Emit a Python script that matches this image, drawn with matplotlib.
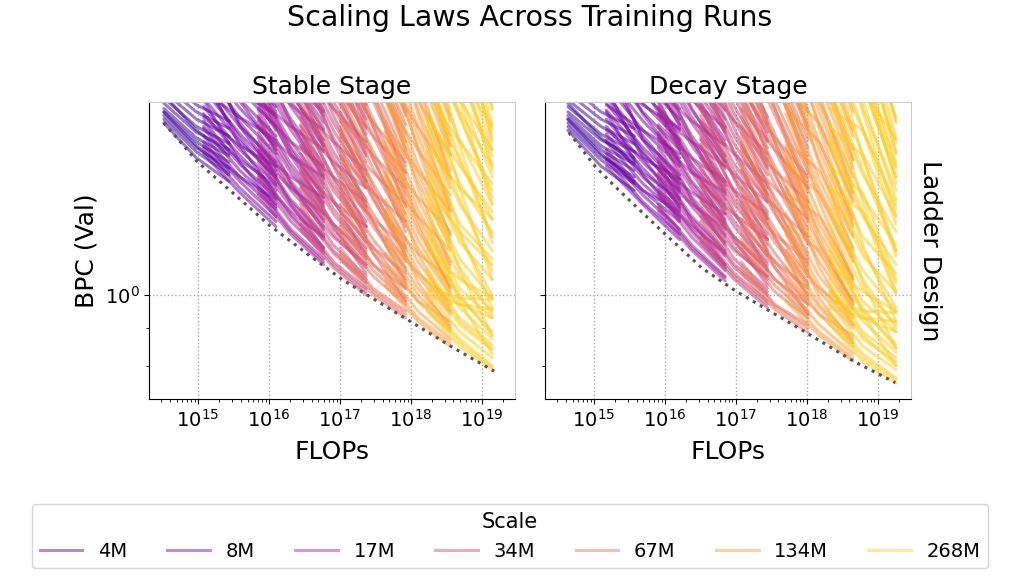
import numpy as np
import matplotlib
matplotlib.use("Agg")
import matplotlib.pyplot as plt
from matplotlib.lines import Line2D
from matplotlib.ticker import LogLocator, NullFormatter

scales = ['4M', '8M', '17M', '34M', '67M', '134M', '268M']

# FLOPs where each scale's runs begin / middle / end (one value per scale)
stable_flops_start = [3.3e14, 1.2e15, 7.1e15, 2.8e16, 1.02e17, 4.4e17, 1.7e18]
stable_flops_mid = [9.5e14, 3.9e15, 2.04e16, 8.1e16, 2.95e17, 1.26e18, 4.9e18]
stable_flops_end = [2.75e15, 1.26e16, 5.9e16, 2.35e17, 8.5e17, 3.6e18, 1.41e19]
decay_flops_start = [4.3e14, 1.5e15, 8.1e15, 3.2e16, 1.2e17, 5.1e17, 2.1e18]
decay_flops_mid = [1.26e15, 4.9e15, 2.4e16, 9.5e16, 3.55e17, 1.5e18, 6.2e18]
decay_flops_end = [3.7e15, 1.62e16, 7.1e16, 2.8e17, 1.05e18, 4.5e18, 1.82e19]

# BPC of each run at (start, mid, end), one list per scale
stable_runs = [
    # 4M
    [(1.72, 1.54, 1.43), (1.74, 1.57, 1.46), (1.76, 1.59, 1.49), (1.78, 1.62, 1.52),
     (1.80, 1.64, 1.55), (1.83, 1.67, 1.58), (1.86, 1.70, 1.61), (1.90, 1.74, 1.65),
     (1.94, 1.78, 1.69), (1.99, 1.82, 1.73), (1.78, 1.60, 1.47), (1.88, 1.68, 1.56)],
    # 8M
    [(1.56, 1.38, 1.24), (1.59, 1.40, 1.26), (1.62, 1.43, 1.28), (1.65, 1.45, 1.31),
     (1.69, 1.48, 1.33), (1.73, 1.51, 1.36), (1.77, 1.55, 1.39), (1.81, 1.58, 1.42),
     (1.86, 1.62, 1.45), (1.91, 1.66, 1.48), (1.96, 1.70, 1.52), (2.02, 1.75, 1.56),
     (2.08, 1.80, 1.60), (2.15, 1.85, 1.65), (2.22, 1.91, 1.70), (2.30, 1.97, 1.75),
     (2.38, 2.04, 1.81), (1.70, 1.53, 1.41), (1.95, 1.64, 1.44), (1.85, 1.52, 1.32),
     (2.00, 1.60, 1.37), (2.10, 1.72, 1.50), (2.25, 1.84, 1.58), (2.45, 2.00, 1.68),
     (2.60, 2.15, 1.78), (2.70, 2.25, 1.88), (1.75, 1.60, 1.50), (1.90, 1.75, 1.63),
     (2.05, 1.90, 1.76), (1.60, 1.45, 1.35), (2.20, 1.70, 1.46)],
    # 17M
    [(1.37, 1.21, 1.10), (1.40, 1.23, 1.12), (1.44, 1.26, 1.14), (1.48, 1.29, 1.16),
     (1.52, 1.32, 1.19), (1.57, 1.35, 1.21), (1.62, 1.39, 1.24), (1.67, 1.43, 1.27),
     (1.73, 1.47, 1.30), (1.79, 1.51, 1.34), (1.86, 1.56, 1.38), (1.93, 1.62, 1.42),
     (2.01, 1.68, 1.46), (2.09, 1.74, 1.51), (2.18, 1.81, 1.57), (2.28, 1.88, 1.63),
     (2.38, 1.96, 1.69), (2.50, 2.05, 1.76), (1.55, 1.40, 1.29), (1.90, 1.55, 1.33),
     (1.60, 1.33, 1.16), (1.75, 1.42, 1.23), (1.95, 1.58, 1.36), (2.15, 1.72, 1.44),
     (2.35, 1.90, 1.60), (2.60, 2.12, 1.79), (2.80, 2.25, 1.87), (1.70, 1.55, 1.45),
     (1.85, 1.70, 1.58), (2.00, 1.82, 1.68), (2.20, 1.95, 1.78), (1.45, 1.30, 1.20),
     (1.39, 1.22, 1.11), (1.46, 1.28, 1.15), (1.54, 1.34, 1.20), (1.64, 1.41, 1.26),
     (1.76, 1.49, 1.32), (1.89, 1.59, 1.40), (2.05, 1.71, 1.48), (2.23, 1.84, 1.60),
     (2.44, 2.00, 1.72), (2.65, 2.15, 1.83), (1.58, 1.45, 1.36), (1.80, 1.62, 1.50)],
    # 34M
    [(1.23, 1.09, 1.00), (1.27, 1.11, 1.02), (1.31, 1.14, 1.04), (1.36, 1.17, 1.06),
     (1.41, 1.21, 1.09), (1.47, 1.25, 1.12), (1.53, 1.29, 1.15), (1.60, 1.34, 1.18),
     (1.67, 1.39, 1.22), (1.75, 1.45, 1.26), (1.83, 1.51, 1.30), (1.92, 1.57, 1.35),
     (2.02, 1.64, 1.40), (2.12, 1.72, 1.46), (2.23, 1.80, 1.52), (2.35, 1.89, 1.59),
     (2.48, 1.98, 1.66), (2.62, 2.08, 1.74), (1.40, 1.25, 1.14), (1.78, 1.44, 1.20),
     (1.50, 1.24, 1.07), (1.68, 1.35, 1.13), (1.90, 1.50, 1.24), (2.10, 1.62, 1.32),
     (2.30, 1.76, 1.43), (2.55, 1.95, 1.56), (2.80, 2.15, 1.70), (3.00, 2.30, 1.82),
     (1.60, 1.45, 1.34), (1.80, 1.62, 1.48), (2.05, 1.80, 1.62), (1.35, 1.20, 1.10),
     (1.25, 1.10, 1.01), (1.33, 1.15, 1.05), (1.44, 1.23, 1.10), (1.56, 1.31, 1.16),
     (1.71, 1.41, 1.24), (1.87, 1.54, 1.32), (2.07, 1.68, 1.43), (2.29, 1.84, 1.55),
     (2.54, 2.02, 1.69), (2.90, 2.22, 1.78), (1.48, 1.34, 1.24), (1.70, 1.52, 1.40)],
    # 67M
    [(1.12, 1.00, 0.93), (1.16, 1.02, 0.95), (1.21, 1.06, 0.97), (1.27, 1.10, 0.99),
     (1.33, 1.14, 1.02), (1.40, 1.19, 1.05), (1.47, 1.24, 1.08), (1.55, 1.29, 1.11),
     (1.64, 1.35, 1.15), (1.73, 1.42, 1.19), (1.83, 1.49, 1.24), (1.94, 1.57, 1.29),
     (2.06, 1.65, 1.34), (2.19, 1.74, 1.40), (2.33, 1.84, 1.47), (2.48, 1.94, 1.54),
     (2.64, 2.05, 1.62), (2.82, 2.17, 1.71), (1.30, 1.16, 1.07), (1.70, 1.36, 1.12),
     (1.40, 1.14, 0.98), (1.58, 1.26, 1.04), (1.78, 1.40, 1.13), (2.00, 1.54, 1.22),
     (2.25, 1.70, 1.32), (2.50, 1.88, 1.44), (2.75, 2.06, 1.58), (3.05, 2.30, 1.78),
     (3.30, 2.45, 1.86), (1.55, 1.38, 1.26), (1.75, 1.55, 1.40), (2.00, 1.72, 1.52),
     (1.25, 1.10, 1.02), (1.14, 1.01, 0.94), (1.24, 1.08, 0.98), (1.36, 1.16, 1.03),
     (1.50, 1.26, 1.09), (1.68, 1.38, 1.17), (1.88, 1.53, 1.26), (2.12, 1.70, 1.37),
     (2.40, 1.89, 1.50), (2.70, 2.10, 1.66), (2.95, 2.25, 1.76), (1.42, 1.27, 1.16),
     (1.65, 1.47, 1.33), (1.88, 1.65, 1.47)],
    # 134M
    [(1.03, 0.92, 0.85), (1.08, 0.95, 0.87), (1.14, 0.98, 0.89), (1.20, 1.02, 0.91),
     (1.27, 1.06, 0.94), (1.35, 1.11, 0.97), (1.43, 1.16, 1.00), (1.52, 1.22, 1.03),
     (1.62, 1.28, 1.07), (1.73, 1.35, 1.11), (1.85, 1.43, 1.16), (1.98, 1.51, 1.21),
     (2.12, 1.60, 1.27), (2.27, 1.70, 1.33), (2.43, 1.80, 1.40), (2.61, 1.92, 1.48),
     (2.80, 2.04, 1.56), (3.00, 2.17, 1.65), (1.20, 1.07, 0.98), (1.60, 1.24, 1.02),
     (1.30, 1.04, 0.90), (1.48, 1.14, 0.95), (1.68, 1.26, 1.02), (1.92, 1.40, 1.10),
     (2.20, 1.58, 1.20), (2.50, 1.77, 1.31), (2.80, 1.98, 1.45), (3.10, 2.20, 1.60),
     (3.40, 2.42, 1.76), (3.70, 2.60, 1.86), (1.45, 1.28, 1.15), (1.70, 1.48, 1.30),
     (2.00, 1.70, 1.45), (1.10, 0.98, 0.92), (1.05, 0.93, 0.86), (1.17, 1.00, 0.90),
     (1.31, 1.08, 0.95), (1.47, 1.19, 1.01), (1.67, 1.31, 1.09), (1.91, 1.47, 1.18),
     (2.19, 1.65, 1.30), (2.52, 1.86, 1.44), (2.90, 2.10, 1.60), (3.25, 2.30, 1.73),
     (1.28, 1.14, 1.05), (1.55, 1.36, 1.22), (1.85, 1.58, 1.37), (2.20, 1.85, 1.55)],
    # 268M
    [(0.95, 0.85, 0.79), (0.98, 0.87, 0.80), (1.01, 0.89, 0.82), (1.05, 0.91, 0.84),
     (1.09, 0.93, 0.855), (1.13, 0.96, 0.87), (1.18, 0.99, 0.89), (1.23, 1.02, 0.93),
     (1.30, 1.06, 0.95), (1.38, 1.12, 0.99), (1.47, 1.18, 1.05), (1.57, 1.25, 1.12),
     (1.68, 1.33, 1.15), (1.80, 1.42, 1.22), (1.94, 1.52, 1.27), (2.09, 1.63, 1.33),
     (2.25, 1.75, 1.39), (2.43, 1.88, 1.45), (2.62, 2.02, 1.51), (2.82, 2.17, 1.58),
     (3.05, 2.33, 1.64), (3.30, 2.50, 1.71), (3.58, 2.68, 1.79), (1.02, 0.99, 0.985),
     (1.00, 0.97, 0.955), (1.25, 0.98, 0.83), (1.45, 1.08, 0.88), (1.70, 1.22, 0.96),
     (2.00, 1.40, 1.05), (2.35, 1.60, 1.18), (2.70, 1.85, 1.33), (3.10, 2.12, 1.48),
     (3.50, 2.40, 1.62), (3.90, 2.70, 1.80), (4.30, 2.95, 1.95), (1.60, 1.40, 1.27),
     (1.90, 1.62, 1.42), (2.20, 1.85, 1.58), (1.15, 1.05, 0.99), (1.05, 0.97, 0.93),
     (2.50, 2.00, 1.70), (0.97, 0.86, 0.795), (1.07, 0.92, 0.845), (1.20, 1.00, 0.88),
     (1.35, 1.09, 0.94), (1.52, 1.20, 1.00), (1.74, 1.35, 1.08), (2.02, 1.54, 1.20),
     (2.35, 1.76, 1.36), (2.72, 2.02, 1.55), (3.15, 2.30, 1.68), (1.40, 1.22, 1.10),
     (1.75, 1.50, 1.30), (2.10, 1.78, 1.50), (2.70, 2.20, 1.85)],
]

decay_runs = [
    # 4M
    [(1.68, 1.50, 1.39), (1.70, 1.53, 1.42), (1.72, 1.55, 1.45), (1.74, 1.58, 1.48),
     (1.76, 1.60, 1.51), (1.78, 1.63, 1.54), (1.81, 1.66, 1.57), (1.85, 1.70, 1.61),
     (1.89, 1.74, 1.65), (1.94, 1.78, 1.69), (1.74, 1.56, 1.43), (1.83, 1.64, 1.52)],
    # 8M
    [(1.50, 1.33, 1.19), (1.53, 1.34, 1.21), (1.56, 1.37, 1.23), (1.58, 1.39, 1.26),
     (1.62, 1.42, 1.28), (1.66, 1.45, 1.31), (1.70, 1.49, 1.33), (1.74, 1.52, 1.36),
     (1.79, 1.56, 1.39), (1.83, 1.59, 1.42), (1.88, 1.63, 1.46), (1.94, 1.68, 1.50),
     (2.00, 1.73, 1.54), (2.06, 1.78, 1.58), (2.13, 1.83, 1.63), (2.21, 1.89, 1.68),
     (2.28, 1.96, 1.74), (1.63, 1.47, 1.35), (1.87, 1.57, 1.38), (1.78, 1.46, 1.27),
     (1.92, 1.54, 1.32), (2.02, 1.65, 1.44), (2.16, 1.77, 1.52), (2.35, 1.92, 1.61),
     (2.50, 2.06, 1.71), (2.59, 2.16, 1.80), (1.68, 1.54, 1.44), (1.82, 1.68, 1.56),
     (1.97, 1.82, 1.69), (1.54, 1.39, 1.30), (2.11, 1.63, 1.40)],
    # 17M
    [(1.30, 1.15, 1.045), (1.33, 1.17, 1.06), (1.37, 1.20, 1.08), (1.41, 1.23, 1.10),
     (1.44, 1.25, 1.13), (1.49, 1.28, 1.15), (1.54, 1.32, 1.18), (1.59, 1.36, 1.21),
     (1.64, 1.40, 1.24), (1.70, 1.43, 1.27), (1.77, 1.48, 1.31), (1.83, 1.54, 1.35),
     (1.91, 1.60, 1.39), (1.99, 1.65, 1.43), (2.07, 1.72, 1.49), (2.17, 1.79, 1.55),
     (2.26, 1.86, 1.61), (2.38, 1.95, 1.67), (1.47, 1.33, 1.23), (1.81, 1.47, 1.26),
     (1.52, 1.26, 1.10), (1.66, 1.35, 1.17), (1.85, 1.50, 1.29), (2.04, 1.63, 1.37),
     (2.23, 1.80, 1.52), (2.47, 2.01, 1.70), (2.66, 2.14, 1.79), (1.62, 1.47, 1.38),
     (1.76, 1.62, 1.50), (1.90, 1.73, 1.60), (2.09, 1.85, 1.69), (1.38, 1.24, 1.14),
     (1.32, 1.16, 1.055), (1.39, 1.22, 1.09), (1.46, 1.27, 1.14), (1.56, 1.34, 1.20),
     (1.67, 1.42, 1.25), (1.80, 1.51, 1.33), (1.95, 1.62, 1.41), (2.12, 1.75, 1.52),
     (2.32, 1.90, 1.63), (2.52, 2.04, 1.74), (1.50, 1.38, 1.29), (1.71, 1.54, 1.43)],
    # 34M
    [(1.18, 1.05, 0.96), (1.22, 1.07, 0.98), (1.26, 1.09, 1.00), (1.31, 1.12, 1.02),
     (1.35, 1.16, 1.05), (1.41, 1.20, 1.08), (1.47, 1.24, 1.10), (1.54, 1.29, 1.13),
     (1.60, 1.33, 1.17), (1.68, 1.39, 1.21), (1.76, 1.45, 1.25), (1.84, 1.51, 1.30),
     (1.94, 1.57, 1.34), (2.04, 1.65, 1.40), (2.14, 1.73, 1.46), (2.26, 1.81, 1.53),
     (2.38, 1.90, 1.59), (2.52, 2.00, 1.67), (1.34, 1.20, 1.09), (1.71, 1.38, 1.15),
     (1.44, 1.19, 1.03), (1.61, 1.30, 1.08), (1.82, 1.44, 1.19), (2.02, 1.56, 1.27),
     (2.21, 1.69, 1.37), (2.45, 1.87, 1.50), (2.69, 2.06, 1.63), (2.88, 2.21, 1.75),
     (1.54, 1.39, 1.29), (1.73, 1.56, 1.42), (1.97, 1.73, 1.56), (1.30, 1.15, 1.06),
     (1.20, 1.06, 0.97), (1.28, 1.10, 1.01), (1.38, 1.18, 1.06), (1.50, 1.26, 1.11),
     (1.64, 1.35, 1.19), (1.80, 1.48, 1.27), (1.99, 1.61, 1.37), (2.20, 1.77, 1.49),
     (2.44, 1.94, 1.62), (2.78, 2.13, 1.71), (1.42, 1.29, 1.19), (1.63, 1.46, 1.34)],
    # 67M
    [(1.07, 0.955, 0.888), (1.11, 0.97, 0.91), (1.16, 1.01, 0.93), (1.21, 1.05, 0.95),
     (1.27, 1.09, 0.97), (1.34, 1.14, 1.00), (1.40, 1.18, 1.03), (1.48, 1.23, 1.06),
     (1.57, 1.29, 1.10), (1.65, 1.36, 1.14), (1.75, 1.42, 1.18), (1.85, 1.50, 1.23),
     (1.97, 1.58, 1.28), (2.09, 1.66, 1.34), (2.23, 1.76, 1.40), (2.37, 1.85, 1.47),
     (2.52, 1.96, 1.55), (2.69, 2.07, 1.63), (1.24, 1.11, 1.02), (1.62, 1.30, 1.07),
     (1.34, 1.09, 0.94), (1.51, 1.20, 0.99), (1.70, 1.34, 1.08), (1.91, 1.47, 1.17),
     (2.15, 1.62, 1.26), (2.39, 1.80, 1.38), (2.63, 1.97, 1.51), (2.91, 2.20, 1.70),
     (3.15, 2.34, 1.78), (1.48, 1.32, 1.20), (1.67, 1.48, 1.34), (1.91, 1.64, 1.45),
     (1.19, 1.05, 0.97), (1.09, 0.965, 0.90), (1.18, 1.03, 0.94), (1.30, 1.11, 0.98),
     (1.43, 1.20, 1.04), (1.60, 1.32, 1.12), (1.80, 1.46, 1.20), (2.02, 1.62, 1.31),
     (2.29, 1.80, 1.43), (2.58, 2.01, 1.59), (2.82, 2.15, 1.68), (1.36, 1.21, 1.11),
     (1.58, 1.40, 1.27), (1.80, 1.58, 1.40)],
    # 134M
    [(0.98, 0.88, 0.812), (1.03, 0.91, 0.83), (1.09, 0.94, 0.85), (1.15, 0.97, 0.87),
     (1.21, 1.01, 0.90), (1.29, 1.06, 0.93), (1.37, 1.11, 0.955), (1.45, 1.17, 0.98),
     (1.55, 1.22, 1.02), (1.65, 1.29, 1.06), (1.77, 1.37, 1.11), (1.89, 1.44, 1.16),
     (2.02, 1.53, 1.21), (2.17, 1.62, 1.27), (2.32, 1.72, 1.34), (2.49, 1.83, 1.41),
     (2.67, 1.95, 1.49), (2.87, 2.07, 1.58), (1.15, 1.02, 0.94), (1.53, 1.18, 0.97),
     (1.24, 0.99, 0.86), (1.41, 1.09, 0.91), (1.60, 1.20, 0.97), (1.83, 1.34, 1.05),
     (2.10, 1.51, 1.15), (2.39, 1.69, 1.25), (2.67, 1.89, 1.38), (2.96, 2.10, 1.53),
     (3.25, 2.31, 1.68), (3.53, 2.48, 1.78), (1.38, 1.28, 1.05), (1.62, 1.48, 1.20),
     (1.91, 1.72, 1.35), (1.05, 0.94, 0.88), (1.00, 0.89, 0.82), (1.12, 0.96, 0.86),
     (1.25, 1.03, 0.91), (1.40, 1.14, 0.96), (1.59, 1.25, 1.04), (1.82, 1.40, 1.13),
     (2.09, 1.58, 1.24), (2.41, 1.78, 1.38), (2.77, 2.01, 1.53), (3.10, 2.20, 1.65),
     (1.25, 1.15, 0.98), (1.50, 1.38, 1.12), (1.80, 1.62, 1.28), (2.10, 1.85, 1.45)],
    # 268M
    [(0.91, 0.81, 0.757), (0.94, 0.83, 0.77), (0.97, 0.85, 0.79), (1.01, 0.87, 0.81),
     (1.05, 0.89, 0.82), (1.08, 0.92, 0.835), (1.13, 0.95, 0.855), (1.18, 0.98, 0.89),
     (1.25, 1.02, 0.91), (1.32, 1.08, 0.95), (1.41, 1.13, 1.01), (1.51, 1.20, 1.07),
     (1.61, 1.28, 1.10), (1.73, 1.36, 1.17), (1.86, 1.46, 1.22), (2.01, 1.56, 1.28),
     (2.16, 1.68, 1.33), (2.33, 1.80, 1.39), (2.52, 1.94, 1.45), (2.71, 2.08, 1.52),
     (2.93, 2.24, 1.57), (3.17, 2.40, 1.64), (3.44, 2.57, 1.72), (0.98, 0.95, 0.945),
     (0.96, 0.93, 0.92), (1.20, 0.94, 0.80), (1.39, 1.04, 0.845), (1.63, 1.17, 0.92),
     (1.92, 1.34, 1.01), (2.26, 1.54, 1.13), (2.59, 1.78, 1.28), (2.98, 2.04, 1.42),
     (3.36, 2.30, 1.56), (3.74, 2.59, 1.73), (4.13, 2.83, 1.87), (1.50, 1.38, 1.05),
     (1.70, 1.55, 1.15), (2.00, 1.85, 1.35), (2.30, 2.05, 1.50), (1.10, 1.01, 0.95),
     (1.01, 0.93, 0.89), (2.40, 1.92, 1.63), (0.93, 0.82, 0.765), (1.03, 0.88, 0.80),
     (1.15, 0.96, 0.845), (1.30, 1.05, 0.90), (1.46, 1.15, 0.96), (1.67, 1.30, 1.04),
     (1.94, 1.48, 1.15), (2.26, 1.69, 1.31), (2.61, 1.94, 1.49), (3.02, 2.21, 1.61),
     (1.40, 1.30, 1.00), (1.80, 1.68, 1.25), (2.10, 1.95, 1.45), (2.60, 2.30, 1.75)],
]

# compute-optimal frontier (dotted line)
stable_front_flops = [3.3e14, 1.0e15, 2.6e15, 1.0e16, 3.6e16, 1.1e17, 4.3e17, 4.0e18, 1.5e19]
stable_front_bpc = [1.72, 1.518, 1.40, 1.247, 1.135, 1.048, 0.966, 0.846, 0.786]
decay_front_flops = [4.45e14, 1.06e15, 2.1e15, 4.2e15, 8.2e15, 1.37e16, 3.3e16, 1.0e17,
                     2.3e17, 1.0e18, 4.6e18, 1.78e19]
decay_front_bpc = [1.668, 1.496, 1.40, 1.313, 1.234, 1.179, 1.089, 1.012, 0.965, 0.887,
                   0.811, 0.758]

colors = plt.cm.plasma(np.linspace(0.1, 0.9, len(scales)))

fig = plt.figure(figsize=(10.11, 5.84), dpi=100)
ax1 = fig.add_axes([0.1474, 0.3168, 0.362, 0.5086])
ax2 = fig.add_axes([0.539, 0.3168, 0.362, 0.5086], sharey=ax1)

panels = [
    (ax1, 'Stable Stage', stable_runs, stable_flops_start, stable_flops_mid, stable_flops_end,
     stable_front_flops, stable_front_bpc),
    (ax2, 'Decay Stage', decay_runs, decay_flops_start, decay_flops_mid, decay_flops_end,
     decay_front_flops, decay_front_bpc),
]

for ax, title, runs, fs, fm, fe, ffl, fbpc in panels:
    for k in range(len(scales)):
        for s, m, e in runs[k]:
            ax.plot([fs[k], fm[k], fe[k]], [s, m, e], color=colors[k], alpha=0.53,
                    lw=2.2, solid_capstyle='round')
    ax.plot(ffl, fbpc, ls=':', color='#555555', lw=2.2, zorder=5)
    ax.set_xscale('log')
    ax.set_yscale('log')
    ax.set_xlim(2.04e14, 2.95e19)
    ax.set_ylim(0.72, 1.837)
    ax.set_title(title, fontsize=18)
    ax.set_xlabel('FLOPs', fontsize=18, labelpad=7)
    ax.xaxis.set_major_locator(LogLocator(base=10, numticks=20))
    ax.xaxis.set_minor_locator(LogLocator(base=10, subs=np.arange(2, 10), numticks=20))
    ax.xaxis.set_minor_formatter(NullFormatter())
    ax.yaxis.set_minor_formatter(NullFormatter())
    ax.grid(True, which='major', ls=':', color='#aaaaaa', lw=1)
    ax.tick_params(labelsize=14)
    for sp in ['top', 'right']:
        ax.spines[sp].set_color('#cccccc')

ax1.set_ylabel('BPC (Val)', fontsize=18)
ax2.tick_params(axis='y', labelleft=False)
ax2.text(1.052, 0.5, 'Ladder Design', transform=ax2.transAxes, rotation=270,
         ha='center', va='center', fontsize=18)

fig.suptitle('Scaling Laws Across Training Runs', fontsize=20.5, x=0.524, y=0.969,
             va='center')

handles = [Line2D([0], [0], color=c, lw=2.2, alpha=0.45) for c in colors]
fig.legend(handles, scales, loc='lower left', bbox_to_anchor=(0.0218, 0.0099, 0.9655, 0.1),
           mode='expand', ncol=len(scales), title='Scale', fontsize=14, title_fontsize=15,
           handlelength=2.2)

fig.savefig('out.png', dpi=100)
